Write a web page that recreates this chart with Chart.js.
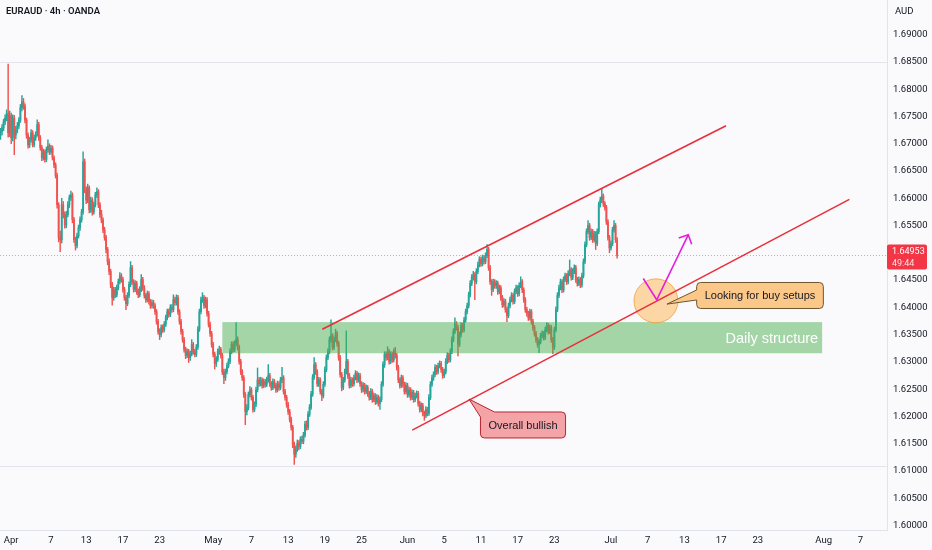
<!DOCTYPE html>
<html><head><meta charset="utf-8">
<script src="https://cdn.jsdelivr.net/npm/chart.js@4.4.1/dist/chart.umd.min.js"></script>
<style>html,body{margin:0;padding:0;background:#fafafc;}#wrap{width:932px;height:550px;position:relative;overflow:hidden}</style>
</head><body><div id="wrap"><canvas id="c" width="932" height="550"></canvas></div>
<script>
// ---- data (EURAUD 4h, OANDA) ----
const firstOpen = 1.6715;
const closes = [
1.6722,1.6729,1.6740,1.6747,1.6755,1.6720,1.6751,1.6711,1.6747,1.6716,1.6725,1.6733,
1.6743,1.6766,1.6777,1.6769,1.6743,1.6716,1.6698,1.6707,1.6720,1.6698,1.6711,1.6718,
1.6735,1.6711,1.6693,1.6674,1.6685,1.6671,1.6689,1.6696,1.6685,1.6692,1.6674,1.6661,
1.6642,1.6588,1.6528,1.6524,1.6588,1.6570,1.6551,1.6570,1.6588,1.6601,1.6606,1.6561,
1.6524,1.6513,1.6531,1.6546,1.6561,1.6575,1.6667,1.6616,1.6597,1.6619,1.6579,1.6597,
1.6575,1.6588,1.6606,1.6612,1.6588,1.6570,1.6560,1.6542,1.6528,1.6506,1.6484,1.6466,
1.6442,1.6418,1.6432,1.6423,1.6436,1.6447,1.6458,1.6451,1.6433,1.6418,1.6407,1.6422,
1.6442,1.6473,1.6447,1.6433,1.6444,1.6429,1.6423,1.6433,1.6451,1.6436,1.6422,1.6414,
1.6425,1.6411,1.6403,1.6409,1.6403,1.6392,1.6374,1.6356,1.6350,1.6363,1.6359,1.6369,
1.6381,1.6392,1.6387,1.6400,1.6396,1.6414,1.6409,1.6418,1.6392,1.6374,1.6356,1.6341,
1.6323,1.6312,1.6319,1.6308,1.6315,1.6332,1.6319,1.6314,1.6327,1.6360,1.6392,1.6414,
1.6418,1.6403,1.6414,1.6389,1.6369,1.6352,1.6332,1.6314,1.6297,1.6305,1.6319,1.6323,
1.6312,1.6282,1.6271,1.6282,1.6293,1.6301,1.6319,1.6332,1.6323,1.6334,1.6341,1.6327,
1.6301,1.6282,1.6271,1.6240,1.6209,1.6216,1.6240,1.6249,1.6235,1.6213,1.6222,1.6249,
1.6267,1.6260,1.6267,1.6257,1.6264,1.6259,1.6267,1.6275,1.6260,1.6253,1.6264,1.6257,
1.6249,1.6260,1.6253,1.6267,1.6271,1.6246,1.6235,1.6222,1.6209,1.6195,1.6180,1.6149,
1.6131,1.6140,1.6151,1.6145,1.6158,1.6155,1.6166,1.6186,1.6180,1.6204,1.6217,1.6241,
1.6272,1.6295,1.6282,1.6260,1.6267,1.6246,1.6238,1.6259,1.6286,1.6308,1.6319,1.6341,
1.6348,1.6327,1.6341,1.6352,1.6334,1.6308,1.6277,1.6253,1.6267,1.6282,1.6301,1.6275,
1.6257,1.6267,1.6260,1.6271,1.6279,1.6267,1.6275,1.6260,1.6249,1.6257,1.6246,1.6253,
1.6242,1.6235,1.6246,1.6231,1.6238,1.6227,1.6235,1.6224,1.6231,1.6259,1.6295,1.6314,
1.6308,1.6319,1.6301,1.6314,1.6304,1.6319,1.6312,1.6290,1.6267,1.6257,1.6271,1.6259,
1.6246,1.6257,1.6240,1.6249,1.6235,1.6244,1.6231,1.6238,1.6242,1.6224,1.6213,1.6220,
1.6206,1.6202,1.6213,1.6206,1.6235,1.6259,1.6271,1.6277,1.6290,1.6282,1.6293,1.6297,
1.6286,1.6275,1.6282,1.6301,1.6312,1.6304,1.6319,1.6341,1.6356,1.6370,1.6363,1.6332,
1.6350,1.6367,1.6359,1.6377,1.6392,1.6403,1.6423,1.6444,1.6455,1.6460,1.6447,1.6466,
1.6478,1.6488,1.6480,1.6491,1.6484,1.6495,1.6506,1.6473,1.6447,1.6433,1.6447,1.6440,
1.6444,1.6429,1.6436,1.6418,1.6405,1.6411,1.6396,1.6385,1.6403,1.6414,1.6422,1.6411,
1.6429,1.6436,1.6425,1.6440,1.6447,1.6432,1.6414,1.6396,1.6389,1.6381,1.6392,1.6374,
1.6363,1.6352,1.6341,1.6332,1.6337,1.6348,1.6352,1.6345,1.6359,1.6367,1.6356,1.6363,
1.6341,1.6327,1.6359,1.6396,1.6422,1.6436,1.6447,1.6432,1.6451,1.6458,1.6447,1.6462,
1.6469,1.6455,1.6466,1.6473,1.6451,1.6444,1.6451,1.6441,1.6458,1.6484,1.6515,1.6539,
1.6550,1.6528,1.6539,1.6524,1.6535,1.6517,1.6539,1.6588,1.6597,1.6604,1.6590,1.6583,
1.6557,1.6528,1.6509,1.6517,1.6542,1.6550,1.6524,1.64953];
const highs = [
1.6728,1.6735,1.6745,1.6753,1.6762,1.6846,1.6760,1.6756,1.6753,1.6752,1.6732,1.6739,
1.6748,1.6772,1.6788,1.6783,1.6773,1.6747,1.6720,1.6712,1.6726,1.6724,1.6716,1.6722,
1.6744,1.6739,1.6715,1.6697,1.6690,1.6689,1.6694,1.6707,1.6700,1.6697,1.6696,1.6678,
1.6665,1.6646,1.6592,1.6540,1.6600,1.6594,1.6575,1.6576,1.6594,1.6606,1.6613,1.6610,
1.6565,1.6529,1.6536,1.6551,1.6566,1.6580,1.6685,1.6672,1.6621,1.6626,1.6623,1.6602,
1.6601,1.6593,1.6611,1.6619,1.6616,1.6592,1.6578,1.6564,1.6547,1.6532,1.6510,1.6489,
1.6470,1.6446,1.6437,1.6437,1.6441,1.6452,1.6464,1.6462,1.6455,1.6437,1.6422,1.6427,
1.6447,1.6484,1.6477,1.6451,1.6449,1.6448,1.6434,1.6438,1.6460,1.6455,1.6440,1.6426,
1.6430,1.6429,1.6415,1.6414,1.6413,1.6407,1.6396,1.6378,1.6361,1.6368,1.6368,1.6374,
1.6386,1.6397,1.6397,1.6405,1.6405,1.6423,1.6419,1.6423,1.6422,1.6396,1.6378,1.6360,
1.6345,1.6327,1.6324,1.6323,1.6320,1.6341,1.6336,1.6323,1.6332,1.6365,1.6397,1.6419,
1.6427,1.6422,1.6419,1.6418,1.6393,1.6373,1.6356,1.6336,1.6318,1.6310,1.6324,1.6329,
1.6327,1.6316,1.6287,1.6287,1.6298,1.6306,1.6324,1.6337,1.6337,1.6339,1.6372,1.6346,
1.6331,1.6305,1.6286,1.6275,1.6244,1.6222,1.6245,1.6255,1.6253,1.6239,1.6227,1.6254,
1.6289,1.6272,1.6272,1.6271,1.6269,1.6268,1.6272,1.6295,1.6279,1.6264,1.6269,1.6268,
1.6261,1.6265,1.6264,1.6272,1.6290,1.6275,1.6250,1.6239,1.6226,1.6213,1.6199,1.6184,
1.6153,1.6146,1.6157,1.6156,1.6163,1.6164,1.6171,1.6191,1.6192,1.6209,1.6222,1.6246,
1.6277,1.6308,1.6299,1.6286,1.6272,1.6271,1.6250,1.6264,1.6291,1.6313,1.6324,1.6346,
1.6377,1.6352,1.6346,1.6360,1.6356,1.6338,1.6312,1.6281,1.6272,1.6287,1.6357,1.6305,
1.6279,1.6272,1.6271,1.6276,1.6284,1.6283,1.6280,1.6279,1.6264,1.6262,1.6261,1.6258,
1.6257,1.6246,1.6251,1.6250,1.6243,1.6242,1.6240,1.6239,1.6236,1.6264,1.6300,1.6319,
1.6318,1.6328,1.6323,1.6319,1.6318,1.6324,1.6327,1.6316,1.6294,1.6271,1.6276,1.6275,
1.6263,1.6262,1.6261,1.6254,1.6253,1.6249,1.6248,1.6243,1.6247,1.6246,1.6228,1.6225,
1.6224,1.6210,1.6218,1.6217,1.6240,1.6264,1.6276,1.6282,1.6295,1.6294,1.6298,1.6302,
1.6301,1.6290,1.6287,1.6306,1.6317,1.6316,1.6324,1.6346,1.6361,1.6381,1.6374,1.6367,
1.6355,1.6372,1.6371,1.6382,1.6397,1.6408,1.6428,1.6449,1.6460,1.6466,1.6464,1.6471,
1.6483,1.6493,1.6492,1.6496,1.6495,1.6500,1.6515,1.6510,1.6477,1.6451,1.6452,1.6451,
1.6449,1.6448,1.6441,1.6440,1.6422,1.6416,1.6415,1.6400,1.6408,1.6419,1.6427,1.6426,
1.6434,1.6441,1.6440,1.6445,1.6456,1.6451,1.6436,1.6418,1.6400,1.6393,1.6397,1.6396,
1.6378,1.6367,1.6356,1.6345,1.6342,1.6353,1.6357,1.6356,1.6364,1.6372,1.6371,1.6368,
1.6367,1.6345,1.6364,1.6401,1.6427,1.6441,1.6452,1.6451,1.6456,1.6463,1.6462,1.6467,
1.6487,1.6473,1.6471,1.6478,1.6477,1.6455,1.6456,1.6455,1.6463,1.6489,1.6520,1.6544,
1.6559,1.6554,1.6544,1.6543,1.6540,1.6539,1.6544,1.6593,1.6602,1.6617,1.6608,1.6594,
1.6587,1.6561,1.6532,1.6522,1.6547,1.6559,1.6554,1.6528];
const lows = [
1.6708,1.6716,1.6724,1.6735,1.6742,1.6712,1.6713,1.6700,1.6705,1.6680,1.6709,1.6720,
1.6728,1.6739,1.6760,1.6763,1.6738,1.6710,1.6692,1.6693,1.6703,1.6694,1.6694,1.6706,
1.6714,1.6706,1.6688,1.6669,1.6670,1.6666,1.6667,1.6684,1.6680,1.6681,1.6670,1.6656,
1.6637,1.6582,1.6520,1.6502,1.6518,1.6564,1.6545,1.6546,1.6566,1.6583,1.6596,1.6555,
1.6519,1.6505,1.6509,1.6527,1.6541,1.6556,1.6571,1.6610,1.6590,1.6592,1.6573,1.6574,
1.6569,1.6571,1.6584,1.6601,1.6583,1.6565,1.6555,1.6537,1.6523,1.6500,1.6478,1.6460,
1.6436,1.6404,1.6413,1.6418,1.6419,1.6432,1.6443,1.6446,1.6428,1.6413,1.6396,1.6403,
1.6418,1.6438,1.6442,1.6428,1.6429,1.6424,1.6418,1.6419,1.6429,1.6431,1.6417,1.6409,
1.6410,1.6406,1.6398,1.6399,1.6398,1.6387,1.6369,1.6351,1.6341,1.6346,1.6354,1.6355,
1.6365,1.6377,1.6382,1.6383,1.6391,1.6392,1.6404,1.6404,1.6387,1.6369,1.6351,1.6336,
1.6318,1.6306,1.6308,1.6299,1.6303,1.6311,1.6314,1.6309,1.6310,1.6323,1.6356,1.6388,
1.6409,1.6398,1.6399,1.6384,1.6364,1.6347,1.6327,1.6309,1.6287,1.6292,1.6301,1.6314,
1.6307,1.6277,1.6260,1.6266,1.6278,1.6289,1.6297,1.6315,1.6318,1.6319,1.6330,1.6322,
1.6296,1.6277,1.6266,1.6235,1.6185,1.6203,1.6212,1.6236,1.6230,1.6208,1.6209,1.6218,
1.6245,1.6255,1.6256,1.6252,1.6253,1.6254,1.6255,1.6263,1.6255,1.6248,1.6249,1.6252,
1.6244,1.6245,1.6248,1.6249,1.6262,1.6241,1.6230,1.6217,1.6204,1.6190,1.6175,1.6143,
1.6112,1.6125,1.6136,1.6139,1.6141,1.6150,1.6150,1.6162,1.6175,1.6176,1.6200,1.6213,
1.6237,1.6268,1.6277,1.6255,1.6255,1.6241,1.6229,1.6234,1.6255,1.6282,1.6304,1.6315,
1.6336,1.6322,1.6323,1.6337,1.6329,1.6303,1.6272,1.6247,1.6249,1.6263,1.6278,1.6270,
1.6252,1.6253,1.6255,1.6256,1.6267,1.6262,1.6263,1.6255,1.6244,1.6245,1.6241,1.6242,
1.6237,1.6230,1.6231,1.6226,1.6227,1.6222,1.6223,1.6219,1.6213,1.6227,1.6255,1.6290,
1.6303,1.6304,1.6296,1.6297,1.6299,1.6300,1.6307,1.6285,1.6262,1.6252,1.6253,1.6254,
1.6241,1.6242,1.6235,1.6236,1.6230,1.6231,1.6226,1.6227,1.6234,1.6219,1.6208,1.6209,
1.6201,1.6193,1.6198,1.6201,1.6202,1.6231,1.6255,1.6266,1.6273,1.6277,1.6278,1.6289,
1.6281,1.6270,1.6271,1.6278,1.6297,1.6299,1.6300,1.6315,1.6337,1.6352,1.6358,1.6311,
1.6328,1.6346,1.6354,1.6355,1.6373,1.6388,1.6399,1.6419,1.6440,1.6450,1.6414,1.6443,
1.6462,1.6474,1.6475,1.6476,1.6479,1.6480,1.6491,1.6468,1.6442,1.6422,1.6429,1.6435,
1.6435,1.6424,1.6425,1.6413,1.6400,1.6401,1.6391,1.6374,1.6381,1.6399,1.6410,1.6406,
1.6407,1.6425,1.6420,1.6421,1.6436,1.6427,1.6409,1.6391,1.6384,1.6376,1.6377,1.6369,
1.6358,1.6347,1.6336,1.6327,1.6317,1.6333,1.6344,1.6340,1.6341,1.6355,1.6351,1.6352,
1.6336,1.6315,1.6323,1.6355,1.6392,1.6418,1.6432,1.6427,1.6428,1.6447,1.6442,1.6443,
1.6458,1.6450,1.6451,1.6462,1.6446,1.6439,1.6440,1.6436,1.6437,1.6454,1.6480,1.6511,
1.6535,1.6523,1.6524,1.6519,1.6520,1.6506,1.6513,1.6535,1.6584,1.6592,1.6585,1.6578,
1.6552,1.6523,1.6500,1.6505,1.6513,1.6538,1.6519,1.6490];

const xTickIndex  = [7, 33, 56, 80, 104, 139, 164, 188, 212, 236, 266, 290, 314, 338, 362, 399, 423, 447, 471, 495, 538, 562];
const xTickLabels = ['Apr','7','13','17','23','May','7','13','19','25','Jun','5','11','17','23','Jul','7','13','17','23','Aug','7'];
const yTickValues = [1.600,1.605,1.610,1.615,1.620,1.625,1.630,1.635,1.640,1.645,1.655,1.660,1.665,1.670,1.675,1.680,1.685,1.690];
const lastPrice = 1.64953;
const countdown = '49:44';
const titleText = 'EURAUD · 4h · OANDA';
const currency = 'AUD';

// ---- drawings (in bar index / price units) ----
const zoneIdx = [145, 537];
const zonePrice = [1.6316, 1.6373];
const zoneLabel = 'Daily structure';
const channelUpper = [[210.3, 1.6360], [474.2, 1.6733]];
const channelLower = [[269.1, 1.6175], [554.8, 1.6598]];
const arrowPts = [[420.1, 1.6453], [428.9, 1.6414], [449.5, 1.6533]];
const circleAt = [428.4, 1.6412];
const levelLines = [1.6850, 1.6110];
const callouts = [
  {text: 'Overall bullish', anchor: [306.2, 1.6232], center: [341.5, 1.61845], tail: 'topLeft', fill: '#f4a4a7', stroke: '#b8262f'},
  {text: 'Looking for buy setups', anchor: [435.6, 1.6406], center: [496.4, 1.64218], tail: 'left', fill: '#fcc88a', stroke: '#6e5630'}
];

// ---- build candles ----
const opens = closes.map((c, i) => i === 0 ? firstOpen : closes[i - 1]);
const UP = '#26a69a', DOWN = '#ef5350';
const candleColors = closes.map((c, i) => c >= opens[i] ? UP : DOWN);
const wickData = closes.map((c, i) => ({x: i, y: [lows[i], highs[i]]}));
const bodyData = closes.map((c, i) => ({x: i, y: [opens[i], c]}));

const BG = '#fafafc';
const AXIS_FONT = {family: 'Roboto', size: 9.5};

const drawPlugin = {
  id: 'drawings',
  beforeDraw(chart) {
    const ctx = chart.ctx;
    ctx.save();
    ctx.fillStyle = BG;
    ctx.fillRect(0, 0, chart.width, chart.height);
    const a = chart.chartArea, ys = chart.scales.y;
    ctx.strokeStyle = '#e3e5ec';
    ctx.lineWidth = 1;
    levelLines.forEach(p => {
      const y = Math.round(ys.getPixelForValue(p)) + 0.5;
      ctx.beginPath(); ctx.moveTo(a.left, y); ctx.lineTo(a.right, y); ctx.stroke();
    });
    ctx.restore();
  },
  afterDatasetsDraw(chart) {
    const ctx = chart.ctx, xs = chart.scales.x, ys = chart.scales.y, a = chart.chartArea;
    const px = i => xs.getPixelForValue(i), py = p => ys.getPixelForValue(p);
    ctx.save();
    ctx.beginPath(); ctx.rect(a.left, a.top, a.right - a.left, a.bottom - a.top); ctx.clip();

    // price line
    ctx.strokeStyle = 'rgba(120,123,134,0.55)';
    ctx.setLineDash([1, 2]);
    ctx.lineWidth = 1;
    const ly = Math.round(py(lastPrice)) + 0.5;
    ctx.beginPath(); ctx.moveTo(a.left, ly); ctx.lineTo(a.right, ly); ctx.stroke();
    ctx.setLineDash([]);

    // zone
    const zx0 = px(zoneIdx[0]), zx1 = px(zoneIdx[1]);
    const zy0 = py(zonePrice[1]), zy1 = py(zonePrice[0]);
    ctx.fillStyle = 'rgba(76,175,80,0.5)';
    ctx.fillRect(zx0, zy0, zx1 - zx0, zy1 - zy0);
    ctx.fillStyle = '#ffffff';
    ctx.font = '14.5px "Liberation Sans"';
    ctx.textAlign = 'right'; ctx.textBaseline = 'middle';
    ctx.fillText(zoneLabel, zx1 - 4, (zy0 + zy1) / 2 + 1);

    // circle
    ctx.beginPath();
    ctx.arc(px(circleAt[0]), py(circleAt[1]), 22, 0, Math.PI * 2);
    ctx.fillStyle = 'rgba(255,170,60,0.45)';
    ctx.fill();
    ctx.strokeStyle = 'rgba(240,160,60,0.8)';
    ctx.lineWidth = 1;
    ctx.stroke();

    // channel lines
    ctx.strokeStyle = '#e8303b';
    ctx.lineWidth = 1.6;
    [channelUpper, channelLower].forEach(l => {
      ctx.beginPath();
      ctx.moveTo(px(l[0][0]), py(l[0][1]));
      ctx.lineTo(px(l[1][0]), py(l[1][1]));
      ctx.stroke();
    });

    // magenta path arrow
    ctx.strokeStyle = '#e61ee0';
    ctx.lineWidth = 1.6;
    ctx.beginPath();
    arrowPts.forEach((p, k) => k ? ctx.lineTo(px(p[0]), py(p[1])) : ctx.moveTo(px(p[0]), py(p[1])));
    ctx.stroke();
    const t = arrowPts[arrowPts.length - 1], s = arrowPts[arrowPts.length - 2];
    const tx = px(t[0]), ty = py(t[1]), sx = px(s[0]), sy = py(s[1]);
    const ang = Math.atan2(ty - sy, tx - sx);
    ctx.beginPath();
    ctx.moveTo(tx + 10 * Math.cos(ang + Math.PI - 0.8), ty + 10 * Math.sin(ang + Math.PI - 0.8));
    ctx.lineTo(tx, ty);
    ctx.lineTo(tx + 10 * Math.cos(ang + Math.PI + 0.8), ty + 10 * Math.sin(ang + Math.PI + 0.8));
    ctx.stroke();

    // callouts
    ctx.font = '11px "Liberation Sans"';
    callouts.forEach(c => {
      const w = ctx.measureText(c.text).width + 16, h = 26, r = 4;
      const cx = px(c.center[0]), cy = py(c.center[1]);
      const L = cx - w / 2, R = cx + w / 2, T = cy - h / 2, B = cy + h / 2;
      const ax = px(c.anchor[0]), ay = py(c.anchor[1]);
      ctx.beginPath();
      if (c.tail === 'topLeft') {
        ctx.moveTo(L + 14, T);
        ctx.lineTo(R - r, T); ctx.arcTo(R, T, R, T + r, r);
        ctx.lineTo(R, B - r); ctx.arcTo(R, B, R - r, B, r);
        ctx.lineTo(L + r, B); ctx.arcTo(L, B, L, B - r, r);
        ctx.lineTo(L, T + 5);
        ctx.lineTo(ax, ay);
        ctx.closePath();
      } else {
        ctx.moveTo(L + r, T);
        ctx.lineTo(R - r, T); ctx.arcTo(R, T, R, T + r, r);
        ctx.lineTo(R, B - r); ctx.arcTo(R, B, R - r, B, r);
        ctx.lineTo(L + r, B); ctx.arcTo(L, B, L, B - r, r);
        ctx.lineTo(L, cy + 4.5);
        ctx.lineTo(ax, ay);
        ctx.lineTo(L, cy - 5.5);
        ctx.lineTo(L, T + r); ctx.arcTo(L, T, L + r, T, r);
        ctx.closePath();
      }
      ctx.fillStyle = c.fill; ctx.fill();
      ctx.strokeStyle = c.stroke; ctx.lineWidth = 1; ctx.stroke();
      ctx.fillStyle = '#131722';
      ctx.textAlign = 'center'; ctx.textBaseline = 'middle';
      ctx.fillText(c.text, cx, cy + 0.5);
    });
    ctx.restore();
  },
  afterDraw(chart) {
    const ctx = chart.ctx, ys = chart.scales.y, a = chart.chartArea;
    ctx.save();
    ctx.fillStyle = '#131722';
    ctx.textBaseline = 'middle'; ctx.textAlign = 'left';
    ctx.font = '600 9.5px Roboto';
    ctx.fillText(titleText, 6, 12);
    ctx.font = '9.5px Roboto';
    ctx.fillText(currency, a.right + 8, 12);
    // last price tag
    const yc = ys.getPixelForValue(lastPrice);
    ctx.fillStyle = '#f23645';
    ctx.beginPath();
    ctx.roundRect(a.right, yc - 11, 40, 25, 2);
    ctx.fill();
    ctx.fillStyle = '#ffffff';
    ctx.font = '9px Roboto';
    ctx.fillText(lastPrice.toFixed(5), a.right + 5, yc - 4);
    ctx.fillStyle = 'rgba(255,255,255,0.85)';
    ctx.fillText(countdown, a.right + 5, yc + 8);
    ctx.restore();
  }
};

new Chart(document.getElementById('c'), {
  type: 'bar',
  data: {
    datasets: [
      {data: bodyData, backgroundColor: candleColors, barThickness: 1.2, grouped: false, borderWidth: 0, minBarLength: 1, order: 1},
      {data: wickData, backgroundColor: candleColors, barThickness: 0.8, grouped: false, borderWidth: 0, order: 2}
    ]
  },
  options: {
    responsive: false,
    animation: false,
    devicePixelRatio: 1,
    layout: {padding: 0},
    plugins: {legend: {display: false}, tooltip: {enabled: false}},
    scales: {
      x: {
        type: 'linear', offset: false, min: -0.33, max: 579.4,
        grid: {display: false, offset: false, drawTicks: false},
        border: {display: true, color: '#e0e3eb'},
        afterBuildTicks: s => { s.ticks = xTickIndex.map(v => ({value: v})); },
        afterFit: s => { s.height = 20; s.paddingLeft = 0; s.paddingRight = 0; },
        ticks: {autoSkip: false, maxRotation: 0, padding: 5, color: '#131722', font: AXIS_FONT,
          callback: (v, i) => xTickLabels[i]}
      },
      y: {
        type: 'linear', position: 'right', min: 1.5992, max: 1.69634, beginAtZero: false,
        grid: {display: false, drawTicks: false},
        border: {display: true, color: '#e0e3eb'},
        afterBuildTicks: s => { s.ticks = yTickValues.map(v => ({value: v})); },
        afterFit: s => { s.width = 45; s.paddingTop = 0; s.paddingBottom = 0; },
        ticks: {padding: 6, color: '#131722', font: AXIS_FONT, callback: v => v.toFixed(5)}
      }
    }
  },
  plugins: [drawPlugin]
});
</script>
</body></html>
